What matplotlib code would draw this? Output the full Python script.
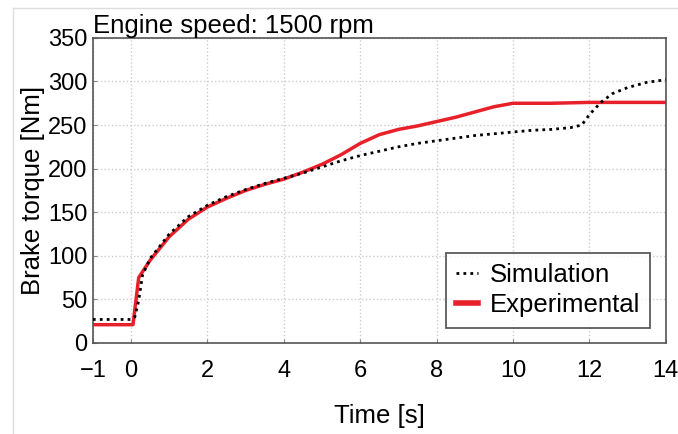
import matplotlib
matplotlib.use("Agg")
import matplotlib.pyplot as plt
from matplotlib.lines import Line2D

# === DATA ===
exp_t = [-1, 0.05, 0.2, 0.5, 1, 1.5, 2, 2.5, 3, 3.5, 4, 4.5, 5, 5.5, 6,
         6.5, 7, 7.5, 8, 8.5, 9, 9.5, 10, 11, 12, 13, 14]
exp_torque = [21, 21, 75, 95, 122, 142, 156, 166, 175, 182, 188, 196, 205,
              216, 229, 239, 245, 249, 254, 259, 265, 271, 275, 275, 276,
              276, 276]

sim_t = [-1, 0, 0.1, 0.2, 0.3, 0.5, 1, 1.5, 2, 2.5, 3, 3.5, 4, 4.5, 5, 5.5,
         6, 6.5, 7, 7.5, 8, 8.5, 9, 9.5, 10, 10.5, 11, 11.5, 11.8, 12, 12.3,
         12.6, 13, 13.5, 14]
sim_torque = [27, 27, 30, 49, 78, 97, 125, 145, 158, 168, 176, 183, 189, 195,
              202, 209, 215, 220, 225, 229, 232, 235, 238, 240, 242, 244, 245,
              247, 250, 262, 276, 286, 293, 299, 302]

x_ticks = [-1, 0, 2, 4, 6, 8, 10, 12, 14]
y_ticks = [0, 50, 100, 150, 200, 250, 300, 350]

# === STYLE ===
plt.rcParams['font.family'] = ['Liberation Sans', 'DejaVu Sans']
FS_TICK = 17
FS_TEXT = 18.5

fig = plt.figure(figsize=(6.78, 4.34), dpi=100)
ax = fig.add_axes([0.137, 0.2097, 0.845, 0.703])

ax.plot(sim_t, sim_torque, color='black', linestyle=(0, (1, 1.5)),
        linewidth=2, label='Simulation', zorder=3)
ax.plot(exp_t, exp_torque, color='#e8202a', linewidth=2.5,
        label='Experimental', zorder=2)

ax.set_xlim(-1, 14)
ax.set_ylim(0, 350)
ax.set_xticks(x_ticks)
ax.set_yticks(y_ticks)
ax.tick_params(direction='in', labelsize=FS_TICK, length=3, color='#888888')
ax.tick_params(axis='x', pad=12)
ax.tick_params(axis='y', pad=4)
ax.grid(True, linestyle=':', color='#cccccc', linewidth=1)
for s in ax.spines.values():
    s.set_color('#555555')
    s.set_linewidth(1.2)

ax.set_xlabel('Time [s]', fontsize=FS_TEXT, labelpad=16)
ax.set_ylabel('Brake torque [Nm]', fontsize=FS_TEXT, labelpad=2)
ax.set_title('Engine speed: 1500 rpm', fontsize=FS_TEXT, loc='left', pad=1)

leg = ax.legend(loc='lower right', fontsize=FS_TEXT, frameon=True,
                fancybox=False, handlelength=0.85, handletextpad=0.45,
                borderaxespad=0.6, labelspacing=0.25, borderpad=0.4)
leg.get_frame().set_edgecolor('#333333')
leg.get_frame().set_linewidth(1.3)
leg.get_lines()[1].set_linewidth(4)

# faint border of the original picture
fig.add_artist(Line2D([0.0185, 0.0185], [0, 0.982], color='#dddddd', lw=1))
fig.add_artist(Line2D([0.0185, 1], [0.982, 0.982], color='#dddddd', lw=1))

fig.savefig('out.png', dpi=100)
